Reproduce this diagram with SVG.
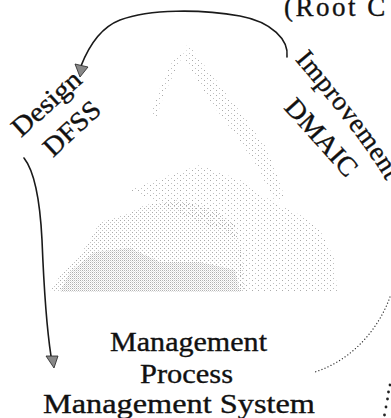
<svg xmlns="http://www.w3.org/2000/svg" width="391" height="418" viewBox="0 0 391 418">
<style>
.t{font-family:"Liberation Serif","DejaVu Serif",serif;font-size:27px;fill:#111;stroke:#111;stroke-width:0.35}
.ln{fill:none;stroke:#1a1a1a;stroke-width:1.6;stroke-linecap:round}
.dot{fill:none;stroke:#333;stroke-width:1.3;stroke-dasharray:0.1 3.2;stroke-linecap:round}
.ah{fill:#888;stroke:#222;stroke-width:0.8}
</style>
<defs>
<pattern id="dense" width="2" height="2" patternUnits="userSpaceOnUse">
<rect x="0" y="0" width="1" height="1" fill="#a8a8a8"/><rect x="1" y="1" width="1" height="1" fill="#d8d8d8"/>
</pattern>
<pattern id="light" width="4" height="4" patternUnits="userSpaceOnUse">
<rect x="0" y="0" width="1" height="1" fill="#aaa"/><rect x="2" y="2" width="1" height="1" fill="#c4c4c4"/>
</pattern>
<pattern id="sparse" width="6" height="5" patternUnits="userSpaceOnUse">
<rect x="0" y="0" width="1" height="1" fill="#aaa"/><rect x="3" y="3" width="1" height="1" fill="#c0c0c0"/>
</pattern>
<path id="impPath" d="M295,60 C327,98 378,159 395,198"/>
</defs>
<g id="background">
<path d="M187,43 L200,60 L220,85 L245,118 L268,150 L285,198 L274,200 L258,168 L238,138 L215,108 L198,82 L186,62 Z" fill="url(#sparse)"/>
<path d="M186,48 L176,70 L165,92 L156,118 L151,114 L160,88 L172,62 Z" fill="url(#sparse)"/>
<path d="M130,190 L170,175 L200,165 L240,180 L270,200 L300,215 L320,230 L335,260 L337,293 L240,293 L240,240 Z" fill="url(#sparse)"/>
<path d="M50,292 L62,272 L80,255 L90,240 L100,222 L125,215 L145,205 L180,200 L215,210 L235,225 L242,255 L245,292 Z" fill="url(#light)"/>
<path d="M60,292 L70,272 L95,252 L130,248 L160,262 L200,262 L235,270 L240,292 Z" fill="url(#dense)" opacity="0.8"/>
</g>
<g id="connectors">
<path class="ln" d="M287,57 C289,40 272,22 240,16 C200,9 150,9 120,20 C102,27 90,43 81,66"/>
<path class="ah" d="M75,64 L88,67 L80,77 Z"/>
<path class="ln" d="M24,158 C35,172 40,200 42,240 C44,290 47,330 51,356"/>
<path class="ah" d="M46,356 L58,356 L54,368 Z"/>
<path class="dot" d="M390,297 C378,330 352,360 315,372"/>
<g fill="#222">
<circle cx="390" cy="385" r="1.4"/><circle cx="388.5" cy="392" r="1.4"/><circle cx="387.5" cy="399" r="1.4"/><circle cx="386" cy="407" r="1.4"/><circle cx="384.5" cy="415" r="1.4"/>
</g>
</g>
<g id="root-cause">
<text class="t" x="284" y="16" font-size="29" letter-spacing="2.5">(Root C</text>
</g>
<g id="design">
<text class="t" transform="translate(21,138) rotate(-42)" font-size="28" textLength="84" lengthAdjust="spacingAndGlyphs">Design</text>
<text class="t" transform="translate(53,158) rotate(-43)" font-size="28" textLength="68" lengthAdjust="spacingAndGlyphs">DFSS</text>
</g>
<g id="improvement">
<text class="t" letter-spacing="0.6"><textPath href="#impPath">Improvement</textPath></text>
<text class="t" transform="translate(283,108) rotate(48)" textLength="95" lengthAdjust="spacingAndGlyphs">DMAIC</text>
</g>
<g id="management">
<text class="t" x="110" y="351" textLength="157" lengthAdjust="spacingAndGlyphs">Management</text>
<text class="t" x="140" y="383" textLength="93" lengthAdjust="spacingAndGlyphs">Process</text>
<text class="t" x="43" y="413" textLength="272" lengthAdjust="spacingAndGlyphs">Management System</text>
</g>
</svg>
